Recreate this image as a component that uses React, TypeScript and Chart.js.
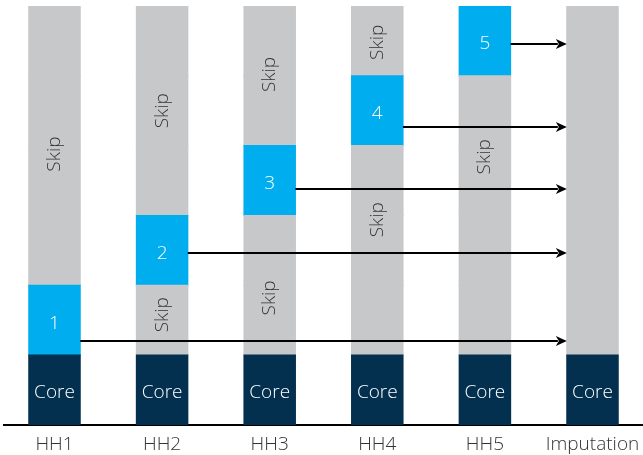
import { useEffect, useRef } from 'react';
import { Chart, registerables } from 'chart.js';

Chart.register(...registerables);

// ---- data ----
const categories = ['HH1', 'HH2', 'HH3', 'HH4', 'HH5', 'Imputation'];
const coreValues = [1, 1, 1, 1, 1, 1];
const layerValues = [1, 1, 1, 1, 1, 1];
const layerCount = 5;
// which upper layer (1..5) holds the question block for each household; 0 = none
const blockLayer = [1, 2, 3, 4, 5, 0];
const blockLabels = ['1', '2', '3', '4', '5', ''];
// where the "Skip" labels sit (in y units) on each bar
const skipLabelLevels: number[][] = [[3.88], [1.58, 4.5], [1.82, 5.02], [2.94, 5.48], [3.84], []];
// height (in y units) of each arrow towards the imputation bar, for HH1..HH5
const arrowLevels = [1.2, 2.46, 3.38, 4.27, 5.45];

const CORE = '#03304F';
const BLUE = '#00AEEF';
const GRAY = '#C7C8CA';
const FONT = '"Open Sans", sans-serif';
const FONT_WEIGHT = '300';

export default function App() {
  const ref = useRef<HTMLCanvasElement>(null);

  useEffect(() => {
    document.body.style.margin = '0';
    if (!ref.current) return;

    const datasets: any[] = [];
    datasets.push({
      label: 'Core',
      data: coreValues.map((v, i) => ({ x: i, y: v })),
      backgroundColor: CORE,
    });
    for (let L = 1; L <= layerCount; L++) {
      datasets.push({
        label: 'Layer ' + L,
        data: layerValues.map((v, i) => ({ x: i, y: v })),
        backgroundColor: categories.map((_, i) => (blockLayer[i] === L ? BLUE : GRAY)),
      });
    }

    const overlay = {
      id: 'overlay',
      afterDatasetsDraw(chart: any) {
        const ctx = chart.ctx;
        const ys = chart.scales.y;
        const coreMeta = chart.getDatasetMeta(0);
        ctx.save();
        ctx.textAlign = 'center';
        ctx.textBaseline = 'middle';
        ctx.font = `${FONT_WEIGHT} 19px ${FONT}`;
        // Core labels
        ctx.fillStyle = '#ffffff';
        coreMeta.data.forEach((bar: any) => {
          const { x, y, base } = bar.getProps(['x', 'y', 'base'], true);
          ctx.fillText('Core', x, (y + base) / 2 + 3);
        });
        // block labels
        categories.forEach((_, i) => {
          const L = blockLayer[i];
          if (!L) return;
          const bar = chart.getDatasetMeta(L).data[i];
          const { x, y, base } = bar.getProps(['x', 'y', 'base'], true);
          ctx.fillStyle = '#ffffff';
          ctx.fillText(blockLabels[i], x, (y + base) / 2 + 3);
        });
        // Skip labels (rotated)
        ctx.fillStyle = '#333333';
        skipLabelLevels.forEach((levels, i) => {
          const x = coreMeta.data[i].x;
          levels.forEach((lv) => {
            const y = ys.getPixelForValue(lv);
            ctx.save();
            ctx.translate(x, y);
            ctx.rotate(-Math.PI / 2);
            ctx.fillText('Skip', 0, 0);
            ctx.restore();
          });
        });
        // arrows
        const target = coreMeta.data[categories.length - 1];
        const x1 = target.x - target.width / 2;
        ctx.strokeStyle = '#000';
        ctx.fillStyle = '#000';
        ctx.lineWidth = 2;
        arrowLevels.forEach((lv, i) => {
          const src = coreMeta.data[i];
          const x0 = src.x + src.width / 2;
          const y = Math.round(ys.getPixelForValue(lv));
          const head = 11;
          ctx.beginPath();
          ctx.moveTo(x0, y);
          ctx.lineTo(x1 - head + 2, y);
          ctx.stroke();
          ctx.beginPath();
          ctx.moveTo(x1, y);
          ctx.lineTo(x1 - head, y - 5);
          ctx.lineTo(x1 - head + 3, y);
          ctx.lineTo(x1 - head, y + 5);
          ctx.closePath();
          ctx.fill();
        });
        ctx.restore();
      },
    };

    const chart = new Chart(ref.current, {
      type: 'bar',
      data: { datasets },
      options: {
        animation: false,
        responsive: false,
        layout: { padding: { left: 4, top: 6, right: 0, bottom: 0 } },
        datasets: {
          bar: { barPercentage: 0.477, categoryPercentage: 1, borderWidth: 0, inflateAmount: 0.6 },
        },
        plugins: { legend: { display: false }, tooltip: { enabled: false } },
        scales: {
          x: {
            type: 'linear',
            offset: false,
            stacked: true,
            min: -0.4693,
            max: 5.4694,
            grid: { display: false, drawTicks: false, offset: false },
            border: { display: true, color: '#000', width: 2 },
            afterBuildTicks: (scale: any) => {
              scale.ticks = categories.map((_, i) => ({ value: i }));
            },
            afterFit: (scale: any) => {
              scale.height = 30;
              scale.paddingLeft = 0;
              scale.paddingRight = 0;
            },
            ticks: {
              autoSkip: false,
              maxRotation: 0,
              padding: 8,
              color: '#333333',
              font: { family: FONT, size: 19, weight: FONT_WEIGHT },
              callback: (v: any) => categories[v as number] ?? '',
            },
          },
          y: {
            stacked: true,
            display: false,
            min: 0,
            max: 6,
          },
        },
      },
      plugins: [overlay],
    } as any);

    return () => chart.destroy();
  }, []);

  return (
    <div style={{ width: 643, height: 455 }}>
      <canvas ref={ref} width={643} height={455} />
    </div>
  );
}
